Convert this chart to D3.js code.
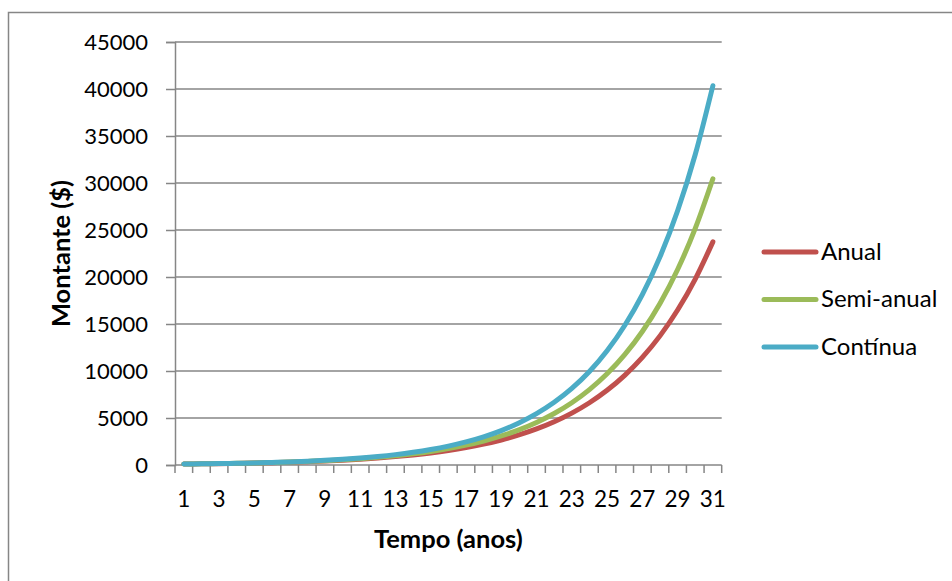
<!DOCTYPE html>
<html>
<head>
<meta charset="utf-8">
<script src="https://cdn.jsdelivr.net/npm/d3@7"></script>
<style>
  html, body { margin: 0; padding: 0; background: #fff; }
  svg { display: block; }
  text { font-family: Lato, "Open Sans", sans-serif; fill: #000; }
</style>
</head>
<body>
<svg id="chart" width="952" height="581"></svg>
<script>
// ---- data ----
const categories = d3.range(1, 32).map(String);
const anual = [100, 120, 144, 172.8, 207.36, 248.83, 298.6, 358.32, 429.98, 515.98, 619.17, 743.01, 891.61, 1069.93, 1283.92, 1540.7, 1848.84, 2218.61, 2662.33, 3194.8, 3833.76, 4600.51, 5520.61, 6624.74, 7949.68, 9539.62, 11447.55, 13737.06, 16484.47, 19781.36, 23737.63];
const semiAnual = [100, 121, 146.41, 177.16, 214.36, 259.37, 313.84, 379.75, 459.5, 555.99, 672.75, 814.03, 984.97, 1191.81, 1442.09, 1744.94, 2111.38, 2554.77, 3091.27, 3740.43, 4525.93, 5476.37, 6626.41, 8017.95, 9701.72, 11739.08, 14204.29, 17187.19, 20796.5, 25163.77, 30448.16];
const continua = [100, 122.14, 149.18, 182.21, 222.55, 271.83, 332.01, 405.52, 495.3, 604.96, 738.91, 902.5, 1102.32, 1346.37, 1644.47, 2008.55, 2453.25, 2996.41, 3659.82, 4470.12, 5459.82, 6668.63, 8145.09, 9948.43, 12151.04, 14841.32, 18127.22, 22140.64, 27042.64, 33029.56, 40342.88];
const seriesNames = ["Anual", "Semi-anual", "Contínua"];
const seriesColors = ["#C0504D", "#9BBB59", "#4BACC6"];
const yTicks = [0, 5000, 10000, 15000, 20000, 25000, 30000, 35000, 40000, 45000];
const xLabelTicks = categories.filter((c, i) => i % 2 === 0);
const xTitle = "Tempo (anos)";
const yTitle = "Montante ($)";

const series = [anual, semiAnual, continua].map((vals, i) => ({
  name: seriesNames[i], color: seriesColors[i], values: vals
}));

// ---- layout ----
const svg = d3.select("#chart");
const plot = { left: 175, right: 721.7, top: 42, bottom: 465 };
const gridColor = "#868686";

// outer chart border
svg.append("rect")
  .attr("x", 8.5).attr("y", 12.5)
  .attr("width", 960).attr("height", 600)
  .attr("fill", "none").attr("stroke", gridColor).attr("stroke-width", 1.5);

const x = d3.scaleBand().domain(categories).range([plot.left, plot.right]).padding(0);
const y = d3.scaleLinear().domain([0, 45000]).range([plot.bottom, plot.top]);
const cx = c => x(c) + x.bandwidth() / 2;

// gridlines
svg.append("g")
  .selectAll("line").data(yTicks.filter(t => t > 0)).join("line")
  .attr("x1", plot.left).attr("x2", plot.right)
  .attr("y1", d => y(d)).attr("y2", d => y(d))
  .attr("stroke", gridColor).attr("stroke-width", 1.5);

// y axis
const yAxis = d3.axisLeft(y).tickValues(yTicks).tickSize(9).tickPadding(18).tickFormat(d3.format("d"));
const gy = svg.append("g").attr("transform", `translate(${plot.left},0)`).call(yAxis);
gy.select(".domain").attr("stroke", gridColor).attr("stroke-width", 1.5);
gy.selectAll(".tick line").attr("stroke", gridColor).attr("stroke-width", 1.5);
gy.selectAll(".tick text").attr("font-size", 22).attr("font-family", "Lato").attr("fill", "#000");

// x axis: baseline + ticks at band boundaries
const boundaries = categories.map(c => x(c)).concat([plot.right]);
svg.append("line")
  .attr("x1", plot.left).attr("x2", plot.right)
  .attr("y1", plot.bottom).attr("y2", plot.bottom)
  .attr("stroke", gridColor).attr("stroke-width", 1.5);
svg.append("g").selectAll("line").data(boundaries).join("line")
  .attr("x1", d => d).attr("x2", d => d)
  .attr("y1", plot.bottom).attr("y2", plot.bottom + 8)
  .attr("stroke", gridColor).attr("stroke-width", 1.5);
svg.append("g").selectAll("text").data(xLabelTicks).join("text")
  .attr("x", d => cx(d)).attr("y", 507)
  .attr("text-anchor", "middle").attr("font-size", 22.5)
  .text(d => d);

// axis titles
svg.append("text")
  .attr("x", (plot.left + plot.right) / 2).attr("y", 548)
  .attr("text-anchor", "middle").attr("font-size", 25.5).attr("font-weight", "bold")
  .text(xTitle);
svg.append("text")
  .attr("transform", `translate(70,${(plot.top + plot.bottom) / 2}) rotate(-90)`)
  .attr("text-anchor", "middle").attr("font-size", 25.5).attr("font-weight", "bold")
  .text(yTitle);

// lines
const line = d3.line()
  .x((d, i) => cx(categories[i]))
  .y(d => y(d))
  .curve(d3.curveMonotoneX);
svg.append("g").selectAll("path").data(series).join("path")
  .attr("d", d => line(d.values))
  .attr("fill", "none")
  .attr("stroke", d => d.color)
  .attr("stroke-width", 5)
  .attr("stroke-linecap", "round")
  .attr("stroke-linejoin", "round");

// legend
const legend = svg.append("g").selectAll("g").data(series).join("g")
  .attr("transform", (d, i) => `translate(0,${252 + i * 47.5})`);
legend.append("line")
  .attr("x1", 764).attr("x2", 816).attr("y1", 0).attr("y2", 0)
  .attr("stroke", d => d.color).attr("stroke-width", 5).attr("stroke-linecap", "round");
legend.append("text")
  .attr("x", 821).attr("y", 7.5)
  .attr("font-size", 24)
  .text(d => d.name);
</script>
</body>
</html>
